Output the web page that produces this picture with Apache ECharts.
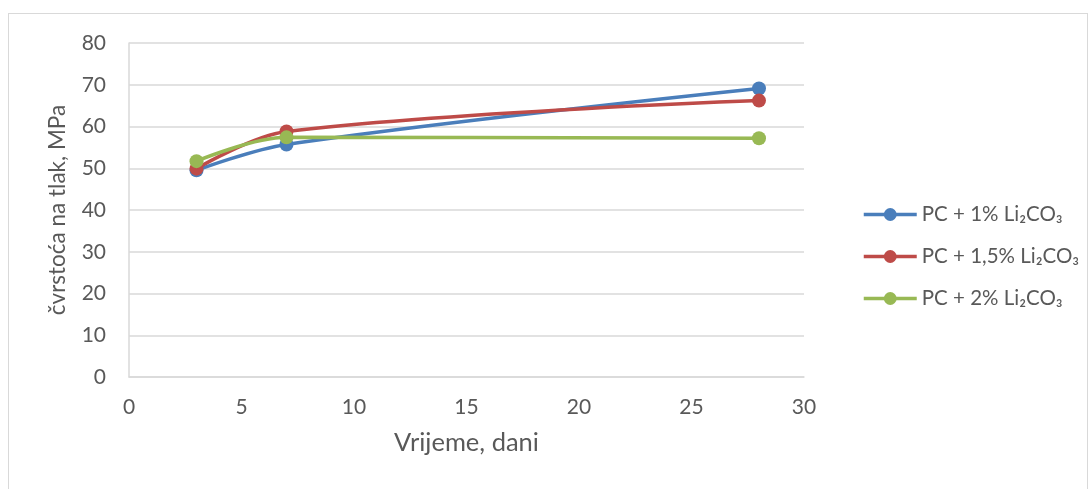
<!DOCTYPE html>
<html><head><meta charset="utf-8">
<script src="https://cdn.jsdelivr.net/npm/echarts@6/dist/echarts.min.js"></script>
<style>html,body{margin:0;padding:0;background:#fff}#c{width:1091px;height:489px}
#frame{position:absolute;left:8px;top:13px;width:1080px;height:480px;border:1px solid #d9d9d9;box-sizing:border-box;pointer-events:none}</style>
</head><body><div id="c"></div><div id="frame"></div>
<script>
const days = [3, 7, 28];
const pc1 = [49.5, 55.7, 69.1];
const pc15 = [49.9, 58.8, 66.2];
const pc2 = [51.7, 57.4, 57.2];
const seriesNames = ['PC + 1% Li₂CO₃', 'PC + 1,5% Li₂CO₃', 'PC + 2% Li₂CO₃'];
const colors = ['#4a7ebb', '#be4b48', '#98b954'];
const font = 'Lato, Open Sans, sans-serif';
const chart = echarts.init(document.getElementById('c'));
const mk = (name, ys, color) => ({
  name, type: 'line', smooth: 0.35,
  data: days.map((d, i) => [d, ys[i]]),
  symbol: 'circle', symbolSize: 14,
  lineStyle: {color, width: 3.5}, itemStyle: {color},
  emphasis: {disabled: true}
});
chart.setOption({
  animation: false,
  textStyle: {fontFamily: font},
  grid: {left: 129, top: 43, right: 287, bottom: 112},
  legend: {
    orient: 'vertical', left: 857, top: 199, itemWidth: 53, itemHeight: 16, itemGap: 21,
    textStyle: {color: '#595959', fontSize: 20.5, fontFamily: font},
    lineStyle: {width: 3.5},
    data: seriesNames
  },
  xAxis: {
    type: 'value', min: 0, max: 30, interval: 5,
    name: 'Vrijeme, dani', nameLocation: 'middle', nameGap: 53, nameMoveOverlap: false,
    nameTextStyle: {color: '#595959', fontSize: 25.5, fontFamily: font},
    axisLine: {lineStyle: {color: '#d9d9d9', width: 1.5}},
    axisTick: {show: false},
    splitLine: {show: false},
    axisLabel: {color: '#595959', fontSize: 21, margin: 20, fontFamily: font}
  },
  yAxis: {
    type: 'value', min: 0, max: 80, interval: 10,
    name: 'čvrstoća na tlak, MPa', nameLocation: 'middle', nameGap: 60, nameRotate: 90, nameMoveOverlap: false,
    nameTextStyle: {color: '#595959', fontSize: 22.5, fontFamily: font},
    axisLine: {show: true, lineStyle: {color: '#d9d9d9', width: 1.5}},
    axisTick: {show: false},
    splitLine: {lineStyle: {color: '#d9d9d9', width: 1.5}},
    axisLabel: {color: '#595959', fontSize: 21, margin: 23, fontFamily: font}
  },
  series: [mk(seriesNames[0], pc1, colors[0]), mk(seriesNames[1], pc15, colors[1]), mk(seriesNames[2], pc2, colors[2])]
});
</script></body></html>
